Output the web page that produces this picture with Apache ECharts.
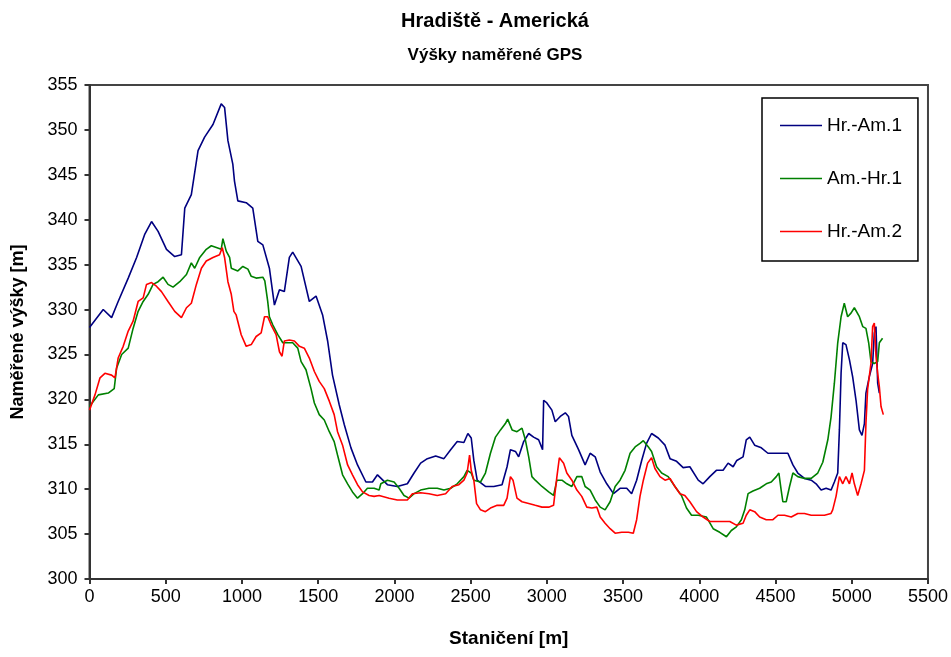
<!DOCTYPE html>
<html>
<head>
<meta charset="utf-8">
<script src="https://cdn.jsdelivr.net/npm/echarts@6/dist/echarts.min.js"></script>
<style>
  html, body { margin: 0; padding: 0; background: #fff; }
  #chart { width: 951px; height: 657px; }
</style>
</head>
<body>
<div id="chart"></div>
<script>
// Stationing [m] and measured GPS elevation [m] for each run
const hrAm1 = [[0,328.0],[90,330.0],[145,329.1],[188,330.9],[254,333.5],[309,335.8],[363,338.4],[407,339.8],[450,338.7],[505,336.7],[559,335.9],[603,336.1],[625,341.3],[668,342.8],[712,347.7],[755,349.2],[810,350.6],[864,352.9],[886,352.5],[908,348.8],[940,346.2],[951,344.3],[973,342.1],[1028,341.9],[1071,341.3],[1104,337.6],[1137,337.2],[1180,334.6],[1213,330.5],[1246,332.2],[1278,332.0],[1311,335.8],[1333,336.4],[1388,334.8],[1442,330.9],[1486,331.5],[1529,329.4],[1562,326.5],[1594,322.7],[1638,319.4],[1671,317.2],[1715,314.6],[1758,312.7],[1813,310.8],[1856,310.8],[1889,311.6],[1954,310.5],[2019,310.3],[2085,310.6],[2129,311.8],[2172,312.9],[2216,313.4],[2271,313.7],[2325,313.4],[2369,314.4],[2412,315.3],[2456,315.2],[2482,316.2],[2504,315.7],[2521,313.2],[2543,311.0],[2597,310.3],[2652,310.3],[2706,310.5],[2739,312.5],[2761,314.4],[2794,314.2],[2815,313.6],[2848,315.3],[2881,316.2],[2913,315.8],[2946,315.5],[2972,314.4],[2979,319.9],[3000,319.6],[3033,318.8],[3055,317.5],[3088,318.1],[3121,318.5],[3142,318.1],[3164,316.0],[3208,314.4],[3251,312.7],[3284,314.0],[3317,313.6],[3350,311.9],[3393,310.6],[3437,309.5],[3480,310.1],[3524,310.1],[3556,309.5],[3589,311.0],[3622,313.2],[3654,315.1],[3687,316.2],[3731,315.7],[3775,314.9],[3808,313.4],[3851,313.1],[3894,312.4],[3938,312.5],[3993,311.0],[4025,310.6],[4069,311.4],[4112,312.1],[4156,312.1],[4189,312.9],[4222,312.5],[4246,313.2],[4287,313.6],[4308,315.5],[4331,315.8],[4363,314.9],[4407,314.6],[4450,314.0],[4494,314.0],[4537,314.0],[4581,314.0],[4614,312.7],[4646,311.8],[4690,311.2],[4734,311.0],[4766,310.6],[4799,309.9],[4832,310.1],[4864,309.9],[4886,310.8],[4908,311.8],[4919,316.6],[4930,322.9],[4941,326.3],[4962,326.1],[4985,324.4],[5006,322.5],[5028,319.9],[5050,316.6],[5067,316.0],[5083,317.3],[5093,320.7],[5115,322.5],[5137,324.0],[5148,327.4],[5159,328.1],[5170,321.8],[5181,320.7]];

const amHr1 = [[0,319.2],[58,320.5],[123,320.7],[162,321.2],[178,323.5],[211,325.0],[254,325.7],[286,327.9],[319,329.8],[352,330.9],[385,331.7],[417,332.8],[450,333.1],[483,333.6],[515,332.8],[548,332.5],[592,333.1],[636,333.9],[668,335.2],[690,334.6],[723,335.8],[766,336.7],[799,337.1],[832,336.9],[864,336.7],[875,337.9],[897,336.5],[919,335.8],[930,334.6],[973,334.3],[1006,334.8],[1039,334.5],[1061,333.7],[1093,333.5],[1137,333.6],[1150,333.2],[1169,330.9],[1180,329.2],[1202,328.3],[1235,327.2],[1268,326.3],[1300,326.3],[1333,326.3],[1366,325.7],[1388,324.2],[1420,323.3],[1453,321.2],[1475,319.6],[1507,318.3],[1540,317.7],[1573,316.4],[1605,315.3],[1627,313.8],[1660,311.6],[1693,310.6],[1725,309.7],[1758,309.0],[1791,309.5],[1823,310.1],[1867,310.1],[1900,309.9],[1911,310.6],[1954,311.0],[1998,310.8],[2031,310.1],[2063,309.3],[2096,309.0],[2129,309.5],[2172,309.9],[2227,310.1],[2281,310.1],[2325,309.9],[2369,310.1],[2412,310.6],[2456,311.4],[2477,312.1],[2504,311.8],[2521,311.0],[2565,310.8],[2597,311.8],[2630,314.0],[2663,315.8],[2696,316.6],[2728,317.3],[2743,317.8],[2772,316.6],[2804,316.4],[2837,316.8],[2859,315.5],[2881,313.6],[2902,311.4],[2924,311.0],[2968,310.3],[3012,309.7],[3044,309.3],[3066,311.0],[3099,311.0],[3131,310.6],[3164,310.3],[3197,311.4],[3229,311.4],[3251,310.3],[3284,309.9],[3317,308.8],[3350,308.0],[3382,307.7],[3415,308.6],[3448,310.3],[3480,311.0],[3513,312.1],[3546,314.0],[3579,314.7],[3611,315.1],[3633,315.4],[3666,314.7],[3687,314.2],[3720,312.5],[3753,311.8],[3796,311.4],[3840,310.3],[3883,309.3],[3916,307.9],[3949,307.1],[3993,307.1],[4047,306.9],[4091,305.6],[4134,305.2],[4178,304.7],[4210,305.4],[4243,305.8],[4276,306.6],[4298,307.7],[4320,309.5],[4352,309.8],[4396,310.1],[4439,310.6],[4472,310.8],[4505,311.4],[4522,311.8],[4537,309.9],[4548,308.6],[4570,308.6],[4592,310.3],[4614,311.8],[4646,311.4],[4690,311.2],[4734,311.2],[4777,311.8],[4810,313.0],[4843,315.5],[4864,318.0],[4886,321.8],[4908,326.3],[4930,329.2],[4951,330.7],[4973,329.2],[4995,329.6],[5017,330.2],[5050,329.2],[5072,328.1],[5093,327.9],[5111,326.3],[5126,324.2],[5148,324.0],[5170,324.2],[5181,326.3],[5202,326.8]];

const hrAm2 = [[0,318.8],[36,320.5],[69,322.4],[101,322.9],[145,322.7],[167,322.4],[188,324.6],[221,325.9],[254,327.6],[286,328.7],[319,330.9],[352,331.3],[374,332.8],[407,333.0],[439,332.6],[472,332.0],[515,330.9],[559,329.8],[603,329.1],[636,330.2],[668,330.7],[701,332.8],[734,334.6],[766,335.4],[810,335.8],[853,336.1],[871,336.9],[886,335.8],[908,333.1],[930,331.7],[947,329.8],[962,329.4],[995,327.2],[1028,325.9],[1061,326.1],[1093,327.0],[1126,327.4],[1148,329.2],[1169,329.2],[1191,328.3],[1224,327.2],[1246,325.3],[1263,324.8],[1278,326.5],[1311,326.6],[1344,326.5],[1377,325.9],[1409,325.7],[1442,324.6],[1475,323.1],[1507,322.0],[1540,321.2],[1573,319.8],[1605,318.3],[1627,316.4],[1660,314.9],[1693,312.7],[1725,311.6],[1758,310.5],[1791,309.7],[1834,309.3],[1867,309.2],[1900,309.3],[1911,309.2],[1965,309.0],[2019,308.8],[2085,308.8],[2118,309.5],[2172,309.6],[2227,309.5],[2281,309.3],[2336,309.5],[2379,310.3],[2423,310.5],[2456,311.0],[2477,311.8],[2493,313.8],[2504,312.1],[2521,311.0],[2539,308.4],[2565,307.7],[2597,307.5],[2630,307.9],[2674,308.2],[2717,308.2],[2739,309.0],[2761,311.4],[2778,311.0],[2804,309.0],[2837,308.6],[2881,308.4],[2924,308.2],[2968,308.0],[3012,308.0],[3044,308.2],[3066,311.4],[3082,313.5],[3110,312.9],[3131,311.8],[3164,311.0],[3197,309.9],[3229,309.2],[3262,308.0],[3295,307.9],[3328,308.0],[3350,306.9],[3382,306.2],[3415,305.6],[3448,305.1],[3491,305.2],[3535,305.2],[3567,305.1],[3589,306.6],[3611,309.2],[3633,311.0],[3661,312.9],[3687,313.5],[3709,312.3],[3742,311.4],[3775,311.0],[3808,311.2],[3840,310.3],[3873,309.5],[3905,309.3],[3938,308.6],[3982,307.5],[4025,306.9],[4069,306.4],[4112,306.4],[4156,306.4],[4200,306.4],[4243,306.0],[4287,306.2],[4308,307.1],[4331,307.7],[4363,307.5],[4396,306.9],[4439,306.6],[4483,306.6],[4516,307.1],[4559,307.1],[4603,306.9],[4646,307.3],[4690,307.3],[4734,307.1],[4777,307.1],[4821,307.1],[4864,307.3],[4875,307.7],[4897,309.2],[4919,311.4],[4941,310.6],[4962,311.4],[4985,310.6],[5002,311.8],[5017,310.6],[5039,309.3],[5061,310.6],[5083,312.1],[5093,317.3],[5104,321.1],[5126,324.0],[5137,328.1],[5148,328.5],[5159,324.8],[5170,322.9],[5181,321.4],[5192,319.2],[5207,318.3]];

const seriesNames = ['Hr.-Am.1', 'Am.-Hr.1', 'Hr.-Am.2'];
const seriesColors = ['#000080', '#008000', '#ff0000'];
const titleText = 'Hradiště - Americká';
const subtitleText = 'Výšky naměřené GPS';
const xName = 'Staničení [m]';
const yName = 'Naměřené výšky [m]';

const FONT = 'Liberation Sans, Arial, sans-serif';
const chart = echarts.init(document.getElementById('chart'), null, { renderer: 'canvas' });

const runs = [hrAm1, amHr1, hrAm2];

chart.setOption({
  animation: false,
  backgroundColor: '#ffffff',
  textStyle: { fontFamily: FONT },
  graphic: [
    { type: 'text', x: 495, y: 11, style: { text: titleText, fontFamily: FONT, fontSize: 20, fontWeight: 'bold', fill: '#000', textAlign: 'center' } },
    { type: 'text', x: 495, y: 47, style: { text: subtitleText, fontFamily: FONT, fontSize: 17, fontWeight: 'bold', fill: '#000', textAlign: 'center' } }
  ],
  grid: {
    left: 89.5, right: 20.5, top: 85, bottom: 78,
    show: true, borderColor: '#444', borderWidth: 2, backgroundColor: '#fff'
  },
  legend: {
    orient: 'vertical',
    left: 762, top: 98,
    data: seriesNames,
    icon: 'path://M0,0H60V2H0Z',
    symbolKeepAspect: true,
    itemWidth: 42, itemHeight: 14, itemGap: 34,
    padding: [18, 16, 20, 18],
    borderColor: '#000', borderWidth: 1.5,
    textStyle: { fontFamily: FONT, fontSize: 19, color: '#000' }
  },
  xAxis: {
    type: 'value', min: 0, max: 5500, interval: 500,
    name: xName, nameLocation: 'middle', nameGap: 50,
    nameTextStyle: { fontFamily: FONT, fontSize: 19, fontWeight: 'bold', color: '#000' },
    axisLine: { lineStyle: { color: '#333', width: 2 } },
    axisTick: { inside: false, length: 5, lineStyle: { color: '#333', width: 2 } },
    axisLabel: { margin: 9, fontFamily: FONT, fontSize: 18, color: '#000', formatter: v => String(v) },
    splitLine: { show: false }
  },
  yAxis: {
    type: 'value', min: 300, max: 355, interval: 5,
    name: yName, nameLocation: 'middle', nameGap: 62, nameRotate: 90,
    nameTextStyle: { fontFamily: FONT, fontSize: 18, fontWeight: 'bold', color: '#000' },
    axisLine: { show: true, lineStyle: { color: '#333', width: 2 } },
    axisTick: { show: true, inside: false, length: 5, lineStyle: { color: '#333', width: 2 } },
    axisLabel: { margin: 12, fontFamily: FONT, fontSize: 18, color: '#000', formatter: v => String(v) },
    splitLine: { show: false }
  },
  series: runs.map((d, i) => ({
    name: seriesNames[i],
    type: 'line',
    data: d,
    symbol: 'none',
    smooth: false,
    lineStyle: { color: seriesColors[i], width: 1.6 },
    itemStyle: { color: seriesColors[i] }
  }))
});
</script>
</body>
</html>
